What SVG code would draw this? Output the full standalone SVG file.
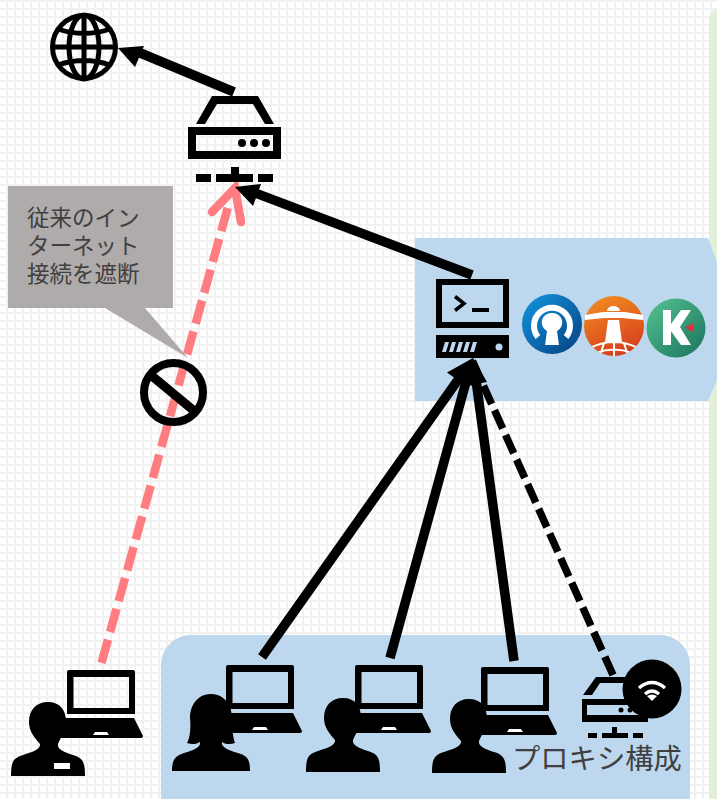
<svg xmlns="http://www.w3.org/2000/svg" width="717" height="799" viewBox="0 0 717 799">
<style>
text{font-family:"Noto Sans CJK JP","Liberation Sans",sans-serif}
.cb{fill:#000}
.k{fill:none;stroke:#000;stroke-width:9.500}
</style>
<defs>
<pattern id="grid" x="6" y="0" width="8" height="8" patternUnits="userSpaceOnUse">
<path d="M0 0H8V2H2V8H0Z" fill="#f1f1f1"/>
</pattern>
<linearGradient id="gv" x1="0.1" y1="0.1" x2="0.9" y2="0.9"><stop offset="0" stop-color="#0f8fd6"/><stop offset="1" stop-color="#08478a"/></linearGradient>
<linearGradient id="gl" x1="0.3" y1="0" x2="0.7" y2="1"><stop offset="0" stop-color="#f08a22"/><stop offset="1" stop-color="#d63c1c"/></linearGradient>
<linearGradient id="gk" x1="0.1" y1="0.1" x2="0.9" y2="0.9"><stop offset="0" stop-color="#50bb8c"/><stop offset="1" stop-color="#1f7a62"/></linearGradient>
<clipPath id="lc"><circle cx="614" cy="326" r="30"/></clipPath>
<g id="laptop">
<path d="M2 0H66Q68 0 68 2V44H0V2Q0 0 2 0ZM6.500 7V38H62V7Z" fill-rule="evenodd"/>
<path d="M-12 48H67L76 66Q76 68 74 68H-12Z"/>
<path d="M26 65L28 62H40L42 65Z" fill="#fff"/>
</g>
<path id="person" d="M37 0C49 0 55 8 55 20C55 28 50 35 47 42C46 47 52 50 62 53C72 56 74 60 74 74H0C0 60 2 56 12 53C22 50 30 47 29 42C24 36 18 30 18 20C18 8 25 0 37 0Z"/>
</defs>
<rect width="717" height="799" fill="#fff"/>
<rect width="717" height="799" fill="url(#grid)"/>
<rect x="709" y="8" width="30" height="800" rx="12" fill="#e2f0d9"/>
<path d="M415 238H708L717 262V380L708 401H415Z" fill="#bdd7ee"/>
<rect x="161" y="635" width="529" height="190" rx="30" fill="#bdd7ee"/>

<g id="connectors">
<path d="M227.700 208L101.500 663" fill="none" stroke="#ff7c80" stroke-width="8.500" stroke-dasharray="24 8"/>
<path d="M212 212L235 188L241 222" fill="none" stroke="#ff7c80" stroke-width="8.500" stroke-linecap="round" stroke-linejoin="miter"/>
<path d="M234 92L138 52" class="k"/>
<path d="M118 48L144 46L135 67Z" class="cb"/>
<path d="M472 275L250 191" class="k"/>
<path d="M235 187L261 184L253 206Z" class="cb"/>
<path d="M262 657L460 377" class="k"/>
<path d="M390 658L466 382" class="k"/>
<path d="M514 661L476 380" class="k"/>
<path d="M473 358L447 372.500L468 387.500Z" class="cb"/>
<path d="M473 358L453.300 380.500L478.300 387.500Z" class="cb"/>
<path d="M473 358L465 386L487 382Z" class="cb"/>
<path d="M613 675L472 360" fill="none" stroke="#000" stroke-width="7.500" stroke-dasharray="20 7"/>
</g>

<g id="callout">
<path d="M8 186H173V308H145L188 358L105 308H8Z" fill="#afabab"/>
<g font-size="22.500" fill="#404040">
<text x="27" y="226">従来のイン</text>
<text x="27" y="254">ターネット</text>
<text x="27" y="282">接続を遮断</text>
</g>
</g>

<g id="block">
<circle cx="173.500" cy="392.500" r="29.500" fill="none" stroke="#000" stroke-width="8"/>
<path d="M152 376L193 410" stroke="#000" stroke-width="9" fill="none"/>
</g>

<g id="globe" fill="none" stroke="#000">
<circle cx="84" cy="47" r="31.500" stroke-width="5"/>
<ellipse cx="84" cy="47" rx="15" ry="32" stroke-width="5"/>
<path d="M84 16V78M53 47H115M58 29Q84 38 110 29M58 65Q84 56 110 65" stroke-width="5"/>
</g>

<g id="router">
<path d="M196 124L212 96H258L274 124H265L253 104H217L205 124Z"/>
<path d="M188 127H281V159H188ZM196 135V151H273V135Z" fill-rule="evenodd"/>
<circle cx="242" cy="143" r="4"/><circle cx="254" cy="143" r="4"/><circle cx="266" cy="143" r="4"/>
<path d="M196 174H211V182H196ZM216 174H231V167H239V174H253V182H216ZM258 174H273V182H258Z"/>
</g>

<g id="terminal">
<path d="M436 279H509V328H436ZM442 285V322H503V285Z" fill-rule="evenodd"/>
<path d="M455 296.500L464 303.500L455 310.500" fill="none" stroke="#000" stroke-width="3.500"/>
<path d="M472 308H489V312H472Z"/>
<path d="M436 335H509V358H436Z"/>
<path d="M442 352L445 342H449L446 352ZM449 352L452 342H456L453 352ZM456 352L459 342H463L460 352ZM463 352L466 342H470L467 352ZM470 352L473 342H477L474 352Z" fill="#bdd7ee"/>
<circle cx="499" cy="347" r="3.500" fill="#bdd7ee"/>
</g>

<g id="openvpn">
<circle cx="552" cy="324" r="30" fill="url(#gv)"/>
<path d="M538 337A18 18 0 1 1 566 337" fill="none" stroke="#fff" stroke-width="6"/>
<path d="M552 313A9.500 9.500 0 0 1 557 331L559 345H545L547 331A9.500 9.500 0 0 1 552 313Z" fill="#fff"/>
</g>
<g id="lighthouse">
<circle cx="614" cy="326" r="30" fill="url(#gl)"/>
<path d="M585 315L603 312H625L643 315V320L622 318H604L585 320Z" fill="#fff"/>
<path d="M607 311A6.500 5 0 0 1 620 311ZM608 320H619L622 342H605Z" fill="#fff"/>
<g clip-path="url(#lc)" fill="none" stroke="#fff" stroke-width="2">
<path d="M590 348Q614 336 638 348M596 353Q614 346 632 353M614 342V356M604 343L600 356M624 343L628 356"/>
</g>
</g>
<g id="kaspersky">
<circle cx="676" cy="328" r="29.500" fill="url(#gk)"/>
<path d="M663 310H671V345H663ZM671 324L681 310H691L680 327L691 345H681L671 331Z" fill="#fff"/>
<path d="M685 327.500L693 323V332Z" fill="#d8333a"/>
</g>

<g id="user-1">
<use href="#laptop" x="67" y="670"/>
<use href="#person" x="11" y="702"/>
<rect x="54" y="763" width="16" height="6" fill="#fff"/>
</g>
<g id="user-2">
<use href="#laptop" x="226" y="665"/>
<path d="M211 694C225 694 232 706 232 718C232 728 233 738 235 743C230 745 224 744 222 742C221 747 227 750 238 753C248 756 250 760 250 771H172C172 760 175 756 184 753C195 750 201 747 200 742C197 744 192 745 187 743C190 738 191 728 190 718C190 706 197 694 211 694Z"/>
</g>
<g id="user-3">
<use href="#laptop" x="355" y="665"/>
<use href="#person" x="306" y="698"/>
</g>
<g id="user-4">
<use href="#laptop" x="481" y="667"/>
<use href="#person" x="432" y="699"/>
</g>
<g id="proxy">
<path d="M583 695L596 677H630V683H600L592 695Z"/>
<path d="M582 699H648V722H582ZM587 705V715H643V705Z" fill-rule="evenodd"/>
<circle cx="621" cy="710" r="2.500"/><circle cx="630" cy="710" r="2.500"/>
<path d="M588 733H597V738H588ZM602 733H612V727H617V733H628V738H602ZM633 733H643V738H633Z"/>
<circle cx="652" cy="689" r="29.500"/>
<path d="M639 688Q652 677 665 688M645 694Q652 688 659 694" fill="none" stroke="#fff" stroke-width="3.500"/>
<path d="M652 701L647 696Q652 693 657 696Z" fill="#fff"/>
</g>
<text x="512" y="769" font-size="28.300" fill="#404040">プロキシ構成</text>
</svg>
